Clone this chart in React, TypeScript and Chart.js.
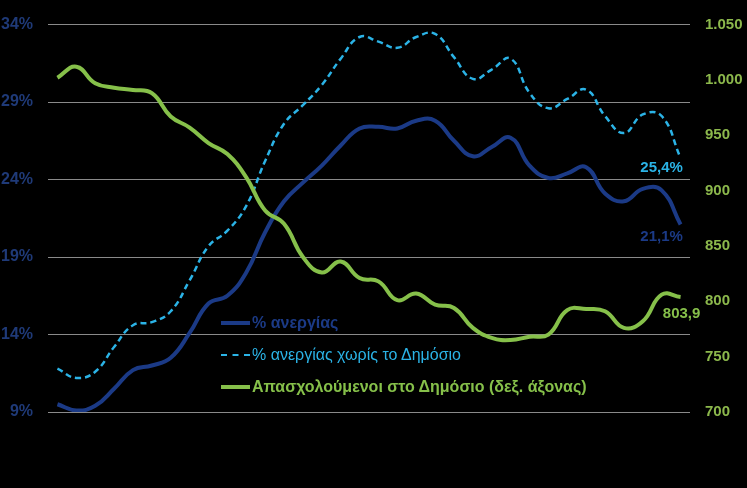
import React, { useEffect, useRef } from "react";
import { Chart, registerables } from "chart.js";

Chart.register(...registerables);

// Quarterly, 2009Q1 – 2017Q2
const quarters = [
  "2009Q1", "2009Q2", "2009Q3", "2009Q4",
  "2010Q1", "2010Q2", "2010Q3", "2010Q4",
  "2011Q1", "2011Q2", "2011Q3", "2011Q4",
  "2012Q1", "2012Q2", "2012Q3", "2012Q4",
  "2013Q1", "2013Q2", "2013Q3", "2013Q4",
  "2014Q1", "2014Q2", "2014Q3", "2014Q4",
  "2015Q1", "2015Q2", "2015Q3", "2015Q4",
  "2016Q1", "2016Q2", "2016Q3", "2016Q4",
  "2017Q1", "2017Q2",
];

// % ανεργίας
const unemployment = [
  9.5, 9.1, 9.4, 10.5, 11.7, 12.0, 12.5, 14.1, 16.0, 16.5,
  18.0, 20.6, 22.6, 23.8, 24.9, 26.2, 27.3, 27.4, 27.3, 27.8,
  27.8, 26.5, 25.5, 26.1, 26.7, 24.9, 24.1, 24.4, 24.8, 23.1,
  22.6, 23.4, 23.3, 21.1,
];

// % ανεργίας χωρίς το Δημόσιο
const unemploymentExPublic = [
  11.8, 11.2, 11.6, 13.2, 14.6, 14.8, 15.5, 17.5, 19.7, 20.7,
  22.3, 25.2, 27.6, 28.8, 30.1, 31.8, 33.2, 32.9, 32.5, 33.2,
  33.4, 31.9, 30.5, 31.1, 31.8, 29.6, 28.6, 29.2, 29.8, 28.1,
  27.0, 28.2, 28.1, 25.4,
];

// Απασχολούμενοι στο Δημόσιο (χιλ.)
const publicEmployed = [
  1002, 1012, 997, 993, 991, 988, 967, 957, 943, 933,
  912, 882, 870, 840, 826, 836, 821, 818, 801, 807,
  797, 794, 776, 767, 765, 768, 770, 792, 793, 791,
  776, 782, 806, 803.9,
];

const leftTicks = [9, 14, 19, 24, 29, 34];
const rightTicks = [700, 750, 800, 850, 900, 950, 1000, 1050];

const endLabels = ["21,1%", "25,4%", "803,9"];

const legendLabels = [
  "% ανεργίας",
  "% ανεργίας χωρίς το Δημόσιο",
  "Απασχολούμενοι στο Δημόσιο (δεξ. άξονας)",
];

const C_BLUE = "#1b3a86";
const C_CYAN = "#2bb3e6";
const C_GREEN = "#86c04a";
const C_LEFT_TICK = "#1f3a78";
const C_RIGHT_TICK = "#8cb84c";
const FONT = "'Liberation Sans', Arial, sans-serif";

function fmtThousands(v: number) {
  if (v >= 1000) {
    return Math.floor(v / 1000) + "." + String(v % 1000).padStart(3, "0");
  }
  return String(v);
}

const endLabelPlugin = {
  id: "endLabels",
  afterDatasetsDraw(chart: any) {
    const ctx = chart.ctx;
    const specs = [
      { ds: 0, dx: -19, dy: 12, color: C_BLUE },
      { ds: 1, dx: -19, dy: 10, color: C_CYAN },
      { ds: 2, dx: 1, dy: 17, color: C_GREEN },
    ];
    ctx.save();
    ctx.font = `bold 15px ${FONT}`;
    ctx.textAlign = "center";
    ctx.textBaseline = "middle";
    specs.forEach((s) => {
      const meta = chart.getDatasetMeta(s.ds);
      const pt = meta.data[meta.data.length - 1];
      if (!pt) return;
      ctx.fillStyle = s.color;
      ctx.fillText(endLabels[s.ds], pt.x + s.dx, pt.y + s.dy);
    });
    ctx.restore();
  },
};

function LegendRow({ color, dashed, bold, text, top }: any) {
  return (
    <div
      style={{
        position: "absolute",
        left: 221,
        top: top,
        display: "flex",
        alignItems: "center",
        whiteSpace: "nowrap",
        height: 20,
      }}
    >
      <div
        style={{
          width: 29,
          height: 0,
          borderTop: dashed ? `2.5px dashed ${color}` : `4px solid ${color}`,
          marginRight: 2,
        }}
      />
      <span
        style={{
          color,
          fontFamily: FONT,
          fontSize: 16,
          fontWeight: bold ? "bold" : "normal",
        }}
      >
        {text}
      </span>
    </div>
  );
}

export default function App() {
  const canvasRef = useRef<HTMLCanvasElement | null>(null);

  useEffect(() => {
    if (!canvasRef.current) return;
    const chart = new Chart(canvasRef.current, {
      type: "line",
      data: {
        labels: quarters,
        datasets: [
          {
            label: legendLabels[0],
            data: unemployment,
            borderColor: C_BLUE,
            backgroundColor: C_BLUE,
            borderWidth: 4,
            pointRadius: 0,
            tension: 0.45,
            yAxisID: "y",
            order: 1,
          },
          {
            label: legendLabels[1],
            data: unemploymentExPublic,
            borderColor: C_CYAN,
            backgroundColor: C_CYAN,
            borderWidth: 2.5,
            borderDash: [6, 4],
            pointRadius: 0,
            tension: 0.45,
            yAxisID: "y",
            order: 2,
          },
          {
            label: legendLabels[2],
            data: publicEmployed,
            borderColor: C_GREEN,
            backgroundColor: C_GREEN,
            borderWidth: 4,
            pointRadius: 0,
            tension: 0.45,
            yAxisID: "y1",
            order: 0,
          },
        ],
      },
      options: {
        animation: false,
        responsive: true,
        maintainAspectRatio: false,
        layout: { padding: { top: 23, bottom: 76, left: 0, right: 0 } },
        plugins: {
          legend: { display: false },
          tooltip: { enabled: false },
        },
        scales: {
          x: {
            type: "category",
            offset: true,
            display: false,
            grid: { display: false },
          },
          y: {
            position: "left",
            min: leftTicks[0],
            max: leftTicks[leftTicks.length - 1],
            afterBuildTicks: (s: any) => {
              s.ticks = leftTicks.map((v) => ({ value: v }));
            },
            afterFit: (s: any) => {
              s.width = 48;
            },
            ticks: {
              callback: (v: any) => v + "%",
              color: C_LEFT_TICK,
              font: { family: FONT, size: 16, weight: "bold" },
              padding: 15,
            },
            grid: { color: "#8a8a8a", lineWidth: 1, drawTicks: false },
            border: { display: false },
          },
          y1: {
            position: "right",
            min: rightTicks[0],
            max: rightTicks[rightTicks.length - 1],
            afterBuildTicks: (s: any) => {
              s.ticks = rightTicks.map((v) => ({ value: v }));
            },
            afterFit: (s: any) => {
              s.width = 57;
            },
            ticks: {
              callback: (v: any) => fmtThousands(Number(v)),
              color: C_RIGHT_TICK,
              font: { family: FONT, size: 15, weight: "bold" },
              padding: 15,
            },
            grid: { display: false, drawTicks: false },
            border: { display: false },
          },
        },
      },
      plugins: [endLabelPlugin],
    } as any);
    return () => chart.destroy();
  }, []);

  return (
    <div
      style={{
        position: "fixed",
        left: 0,
        top: 0,
        width: 747,
        height: 488,
        background: "#000",
      }}
    >
      <canvas ref={canvasRef} style={{ width: "100%", height: "100%" }} />
      <LegendRow color={C_BLUE} bold text={legendLabels[0]} top={313} />
      <LegendRow color={C_CYAN} dashed text={legendLabels[1]} top={345} />
      <LegendRow color={C_GREEN} bold text={legendLabels[2]} top={377} />
    </div>
  );
}
